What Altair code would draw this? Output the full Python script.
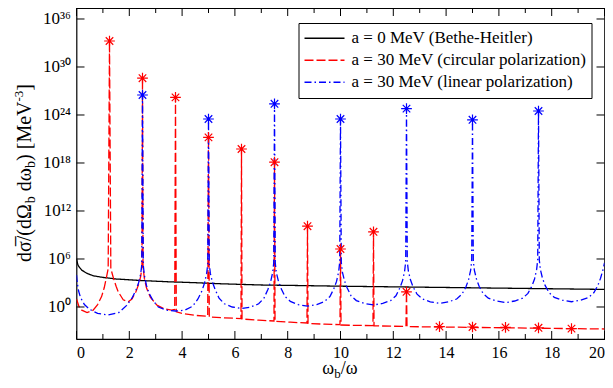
import altair as alt
import pandas as pd

FONT = "Liberation Serif"
W, H = 528, 331
Y_TOP = 2.371e37

series_names = [
    "a = 0 MeV (Bethe-Heitler)",
    "a = 30 MeV (circular polarization)",
    "a = 30 MeV (linear polarization)",
]
series_colors = ["black", "red", "blue"]
series_dash = [[1, 0], [9, 3], [7, 3, 1.5, 3]]

# Bethe-Heitler (log10 of cross section)
bh_x = [0, 0.05, 0.1, 0.2, 0.4, 0.64, 1.0, 1.5, 2.5, 3.5, 4.4, 5.5, 7.0, 8.5, 10, 12.5, 15, 17.5, 20]
bh_lg = [6.0, 5.3, 5.0, 4.6, 4.2, 3.9, 3.7, 3.5, 3.3, 3.15, 3.05, 2.9, 2.75, 2.68, 2.6, 2.5, 2.4, 2.3, 2.2]

# circular polarization
circ_x = [0, 0.1, 0.2, 0.4, 0.63, 0.8, 0.95, 1.05, 1.14, 1.2,
          1.25, 1.3, 1.4, 1.5, 1.58, 1.77, 1.96, 2.1, 2.25, 2.35,
          2.43, 2.48, 2.5, 2.52, 2.57, 2.65, 2.8, 3.04, 3.3, 3.6,
          3.72, 3.75, 3.78, 4.0, 4.5, 4.97, 5.0, 5.03, 5.6, 6.23,
          6.25, 6.27, 6.9, 7.48, 7.5, 7.52, 8.1, 8.73, 8.75, 8.77,
          9.4, 9.98, 10.0, 10.02, 10.6, 11.23, 11.25, 11.27, 11.9, 12.48,
          12.5, 12.52, 13.75, 15.0, 16.25, 17.5, 18.75, 20.0]
circ_lg = [1.0, 0.0, -0.4, -0.7, -0.4, 0.3, 1.3, 2.4, 3.8, 4.8,
           33.25, 4.8, 3.6, 2.6, 1.9, 0.9, 0.66, 1.0, 1.9, 2.8,
           3.8, 5.0, 28.6, 5.0, 3.6, 2.4, 1.2, 0.25, -0.2, -0.4,
           -0.3, 26.2, -0.6, -0.8, -1.05, -1.15, 21.2, -1.25, -1.35, -1.45,
           19.75, -1.5, -1.65, -1.75, 18.1, -1.8, -1.9, -2.0, 10.1, -2.05,
           -2.15, -2.2, 7.25, -2.25, -2.3, -2.32, 9.4, -2.35, -2.4, -2.42,
           1.9, -2.45, -2.5, -2.55, -2.6, -2.65, -2.7, -2.75]

# linear polarization
lin_x = [0, 0.03, 0.08, 0.15, 0.3, 0.5, 0.8, 1.2, 1.6, 1.9, 2.1, 2.25, 2.35, 2.43, 2.47, 2.5,
         2.53, 2.57, 2.65, 2.75, 2.9, 3.1, 3.4, 3.75, 4.1, 4.4, 4.6, 4.75, 4.85, 4.93, 4.97, 5.0,
         5.03, 5.07, 5.15, 5.25, 5.4, 5.6, 5.9, 6.25, 6.6, 6.9, 7.1, 7.25, 7.35, 7.43, 7.47, 7.5,
         7.53, 7.57, 7.65, 7.75, 7.9, 8.1, 8.4, 8.75, 9.1, 9.4, 9.6, 9.75, 9.85, 9.93, 9.97, 10.0,
         10.03, 10.07, 10.15, 10.25, 10.4, 10.6, 10.9, 11.25, 11.6, 11.9, 12.1, 12.25, 12.35, 12.43, 12.47, 12.5,
         12.53, 12.57, 12.65, 12.75, 12.9, 13.1, 13.4, 13.75, 14.1, 14.4, 14.6, 14.75, 14.85, 14.93, 14.97, 15.0,
         15.03, 15.07, 15.15, 15.25, 15.4, 15.6, 15.9, 16.25, 16.6, 16.9, 17.1, 17.25, 17.35, 17.43, 17.47, 17.5,
         17.53, 17.57, 17.65, 17.75, 17.9, 18.1, 18.4, 18.75, 19.1, 19.4, 19.6, 19.75, 19.85, 19.93, 20.0]
lin_lg = [4.0, 3.0, 2.0, 1.2, 0.3, -0.3, -0.8, -1.0, -0.7, 0.2, 1.1, 2.1, 3.0, 4.1, 5.2, 26.5,
          5.2, 4.0, 2.7, 1.7, 0.8, 0.0, -0.4, -0.5, -0.4, 0.1, 1.0, 2.0, 3.0, 4.2, 5.3, 23.5,
          5.4, 4.2, 3.1, 2.2, 1.1, 0.4, 0.0, -0.2, 0.0, 0.4, 1.1, 2.2, 3.1, 4.3, 5.5, 25.4,
          5.5, 4.3, 3.2, 2.3, 1.3, 0.7, 0.3, 0.1, 0.3, 0.7, 1.3, 2.3, 3.2, 4.4, 5.6, 23.5,
          5.6, 4.4, 3.3, 2.4, 1.4, 0.8, 0.45, 0.25, 0.45, 0.8, 1.4, 2.4, 3.3, 4.5, 5.7, 24.8,
          5.7, 4.5, 3.4, 2.5, 1.6, 1.0, 0.65, 0.45, 0.65, 1.0, 1.6, 2.5, 3.4, 4.6, 5.8, 23.4,
          5.8, 4.6, 3.5, 2.6, 1.7, 1.1, 0.75, 0.55, 0.75, 1.1, 1.7, 2.6, 3.5, 4.7, 5.9, 24.5,
          5.9, 4.7, 3.6, 2.7, 1.8, 1.2, 0.85, 0.66, 0.85, 1.2, 1.8, 2.7, 3.6, 4.5, 5.5]

# star markers at resonance peaks
circ_star_x = [1.25, 2.5, 3.75, 5.0, 6.25, 7.5, 8.75, 10.0, 11.25, 12.5, 13.75, 15.0, 16.25, 17.5, 18.75]
circ_star_lg = [33.25, 28.6, 26.2, 21.2, 19.75, 18.1, 10.1, 7.25, 9.4, 1.9, -2.46, -2.5, -2.55, -2.6, -2.7]
lin_star_x = [2.5, 5.0, 7.5, 10.0, 12.5, 15.0, 17.5]
lin_star_lg = [26.5, 23.5, 25.4, 23.5, 24.8, 23.4, 24.5]

x_labels = [0, 2, 4, 6, 8, 10, 12, 14, 16, 18, 20]
x_minor = [1, 3, 5, 7, 9, 11, 13, 15, 17, 19]
y_exps = [0, 6, 12, 18, 24, 30, 36]

# ---------------- tables ----------------
rows = []
for name, xs, lgs in [(series_names[0], bh_x, bh_lg),
                      (series_names[1], circ_x, circ_lg),
                      (series_names[2], lin_x, lin_lg)]:
    for i, (xv, lv) in enumerate(zip(xs, lgs)):
        rows.append({"series": name, "x": xv, "lg": lv, "i": i})
curves = pd.DataFrame(rows)

stars = pd.DataFrame(
    [{"x": a, "lg": b, "col": "red"} for a, b in zip(circ_star_x, circ_star_lg)]
    + [{"x": a, "lg": b, "col": "blue"} for a, b in zip(lin_star_x, lin_star_lg)]
)

sup = str.maketrans("0123456789-", "⁰¹²³⁴⁵⁶⁷⁸⁹⁻")
label_expr = " : ".join(
    f"abs(log(datum.value)/LN10 - {e}) < 0.5 ? '10{str(e).translate(sup)}'" for e in y_exps
) + " : ''"

xscale = alt.Scale(domain=[0, 20], nice=False, zero=False)
yscale = alt.Scale(type="log", domain=[1e-4, Y_TOP], nice=False)

leg = alt.Legend(
    title=None, orient="none", legendX=222, legendY=15,
    fillColor="white", strokeColor="black", padding=5,
    labelFont=FONT, labelFontSize=17, labelColor="black", labelLimit=500,
    symbolType="stroke", symbolSize=1600, symbolStrokeWidth=1.3,
    labelOffset=6, clipHeight=20.5, rowPadding=1,
)

lines = alt.Chart(curves).transform_calculate(
    y="pow(10, datum.lg)"
).mark_line(clip=True, strokeWidth=1.3).encode(
    x=alt.X("x:Q", scale=xscale, title=None,
            axis=alt.Axis(values=x_labels, labelFont=FONT, labelFontSize=16, labelColor="black",
                          ticks=False, domain=False, grid=False, labelPadding=5, format="d")),
    y=alt.Y("y:Q", scale=yscale, title=None,
            axis=alt.Axis(values=[10.0 ** e for e in y_exps], labelExpr=label_expr,
                          labelFont=FONT, labelFontSize=17, labelColor="black",
                          ticks=False, domain=False, grid=False, labelPadding=6)),
    color=alt.Color("series:N", scale=alt.Scale(domain=series_names, range=series_colors), legend=leg),
    strokeDash=alt.StrokeDash("series:N", scale=alt.Scale(domain=series_names, range=series_dash), legend=leg),
    order=alt.Order("i:Q"),
)

AST = "M-1,0L1,0M0,-1L0,1M-0.7,-0.7L0.7,0.7M-0.7,0.7L0.7,-0.7"
star_layer = alt.Chart(stars).transform_calculate(
    y="pow(10, datum.lg)"
).mark_point(shape=AST, size=115, filled=False, strokeWidth=1.2, opacity=1).encode(
    x=alt.X("x:Q", scale=xscale),
    y=alt.Y("y:Q", scale=yscale),
    stroke=alt.Stroke("col:N", scale=None),
)

# inward ticks
xt_major = pd.DataFrame({"x": x_labels})
xt_minor = pd.DataFrame({"x": x_minor})
yt = pd.DataFrame({"y": [10.0 ** e for e in y_exps]})
tick_layers = []
for df, ln in [(xt_major, 8), (xt_minor, 5)]:
    tick_layers.append(alt.Chart(df).mark_rule(color="black", strokeWidth=1).encode(
        x=alt.X("x:Q", scale=xscale), y=alt.value(H), y2=alt.value(H - ln)))
    tick_layers.append(alt.Chart(df).mark_rule(color="black", strokeWidth=1).encode(
        x=alt.X("x:Q", scale=xscale), y=alt.value(0), y2=alt.value(ln)))
tick_layers.append(alt.Chart(yt).mark_rule(color="black", strokeWidth=1).encode(
    y=alt.Y("y:Q", scale=yscale), x=alt.value(0), x2=alt.value(8)))
tick_layers.append(alt.Chart(yt).mark_rule(color="black", strokeWidth=1).encode(
    y=alt.Y("y:Q", scale=yscale), x=alt.value(W), x2=alt.value(W - 8)))

# composed axis titles (with subscripts / superscripts)
CW = {'d': .5, 'σ': .55, '/': .278, '(': .333, 'Ω': .78, ' ': .25, 'ω': .66, ')': .333,
      '[': .333, 'M': .889, 'e': .444, 'V': .722, ']': .333, 'b': .5, '-': .333, '3': .5, '\u0305': 0}


def tw(s, size):
    return sum(CW.get(c, .5) for c in s) * size


dummy = pd.DataFrame({"a": [0]})
title_layers = []

# (text, font size, baseline shift, gap before piece)
YT = [("dσ\u0305/(dΩ", 20, 0, 0), ("b", 14, 4, 0), ("dω", 20, 0, 5), ("b", 14, 4, 0),
      (") [MeV", 20, 0, 0), ("-3", 13, -8, 0), ("]", 20, 0, 0)]
ytot = sum(tw(s, f) + g for s, f, _, g in YT)
ycur = 165 + ytot / 2
XB = -45.5
for s, f, off, g in YT:
    ycur -= g
    title_layers.append(alt.Chart(dummy).mark_text(
        text=s, font=FONT, fontSize=f, angle=270, align="left", baseline="alphabetic", color="black"
    ).encode(x=alt.value(XB + off), y=alt.value(ycur)))
    ycur -= tw(s, f)

XT = [("ω", 18, 0), ("b", 13, 4), ("/ω", 18, 0)]
xtot = sum(tw(s, f) for s, f, _ in XT)
xcur = 263.5 - xtot / 2
YB = H + 35
for s, f, off in XT:
    title_layers.append(alt.Chart(dummy).mark_text(
        text=s, font=FONT, fontSize=f, align="left", baseline="alphabetic", color="black"
    ).encode(x=alt.value(xcur), y=alt.value(YB + off)))
    xcur += tw(s, f)

chart = alt.layer(lines, star_layer, *tick_layers, *title_layers).properties(
    width=W, height=H,
    autosize=alt.AutoSizeParams(type="none"),
    padding={"left": 68.5, "top": 0, "right": 0.5, "bottom": 41},
).configure_view(stroke="black", strokeWidth=1.2)

chart.save("out.html", embed_options={"renderer": "svg", "actions": False})
